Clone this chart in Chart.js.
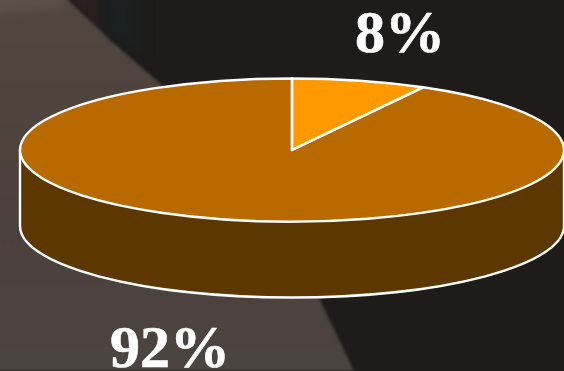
<!DOCTYPE html>
<html>
<head>
<meta charset="utf-8">
<style>
    html, body { margin: 0; padding: 0; background: #1e1b19; overflow: hidden; }
    #stage { position: relative; width: 564px; height: 371px; overflow: hidden; }
    .soft { position: absolute; left: -10px; top: -10px; width: 584px; height: 391px; }
    .soft div { width: 100%; height: 100%; }
    #maroon { background: #2b2021; clip-path: path('M70 0 L112 0 L112 48 Z'); }
    #shade { background: #1b2021; clip-path: path('M112 0 L150 0 L150 70 L112 40 Z'); }
    #wedge {
        background: linear-gradient(180deg, #51473f 0%, #4b403b 55%, #4c4440 100%);
        clip-path: path('M0 0 L70 0 C80 14 100 30 120 50 C145 72 165 88 180 103 C240 165 295 235 329 308 L364 381 L0 381 Z');
    }
    #band { background: #5c5047; clip-path: path('M0 0 L74 0 L76 16 C50 20 25 22 0 24 Z'); }
    canvas { position: absolute; left: 0; top: 0; }
</style>
</head>
<body>
<div id="stage">
    <div class="soft" style="filter: blur(6px)"><div id="maroon"></div></div>
    <div class="soft" style="filter: blur(7px)"><div id="shade"></div></div>
    <div class="soft" style="filter: blur(1.5px)"><div id="wedge"></div></div>
    <div class="soft" style="filter: blur(4px)"><div id="band"></div></div>
    <canvas id="pie" width="564" height="371"></canvas>
</div>
<script src="https://cdn.jsdelivr.net/npm/chart.js@4"></script>
<script>
const shares = [8, 92];
const sliceColors = ['#ff9900', '#b86a00'];
const wallColor = '#5c3700';
const labelSpots = [[400, 52], [170, 367]];

// Tilt of the pie and height of its side wall
const tilt = 0.263;
const wallDepth = 76;

// Runs fn with the context squashed around the pie centre
function tilted(ctx, arc, fn) {
    ctx.save();
    ctx.translate(arc.x, arc.y);
    ctx.scale(1, tilt);
    ctx.translate(-arc.x, -arc.y);
    fn();
    ctx.restore();
}

const tiltedPie = {
    id: 'tiltedPie',
    beforeDatasetsDraw(chart) {
        const ctx = chart.ctx;
        const arc = chart.getDatasetMeta(0).data[0];
        const r = arc.outerRadius;

        // side wall under the front half of the rim
        ctx.save();
        ctx.beginPath();
        ctx.moveTo(arc.x - r, arc.y);
        ctx.lineTo(arc.x - r, arc.y + wallDepth);
        ctx.ellipse(arc.x, arc.y + wallDepth, r, r * tilt, 0, Math.PI, 0, true);
        ctx.lineTo(arc.x + r, arc.y);
        ctx.fillStyle = wallColor;
        ctx.fill();
        ctx.strokeStyle = '#fff';
        ctx.lineWidth = 2.4;
        ctx.stroke();
        ctx.restore();

        ctx.save();
        ctx.translate(arc.x, arc.y);
        ctx.scale(1, tilt);
        ctx.translate(-arc.x, -arc.y);
    },
    afterDatasetsDraw(chart) {
        const ctx = chart.ctx;
        ctx.restore();

        // outlines go on unsquashed so the line keeps an even width
        chart.getDatasetMeta(0).data.forEach(arc => {
            tilted(ctx, arc, () => {
                ctx.beginPath();
                ctx.moveTo(arc.x, arc.y);
                ctx.arc(arc.x, arc.y, arc.outerRadius, arc.startAngle, arc.endAngle);
                ctx.closePath();
            });
            ctx.strokeStyle = '#fff';
            ctx.lineWidth = 2.4;
            ctx.lineJoin = 'round';
            ctx.stroke();
        });

        // percentage labels
        ctx.save();
        ctx.fillStyle = '#fff';
        ctx.strokeStyle = '#fff';
        ctx.lineWidth = 0.6;
        ctx.font = 'bold 60px "Liberation Serif"';
        ctx.textAlign = 'center';
        ctx.textBaseline = 'alphabetic';
        chart.data.labels.forEach((text, i) => {
            ctx.fillText(text, labelSpots[i][0], labelSpots[i][1]);
            ctx.strokeText(text, labelSpots[i][0], labelSpots[i][1]);
        });
        ctx.restore();
    }
};

new Chart(document.getElementById('pie'), {
    type: 'pie',
    data: {
        labels: shares.map(v => v + '%'),
        datasets: [{
            data: shares,
            backgroundColor: sliceColors,
            borderWidth: 0,
            radius: 272,
            clip: false
        }]
    },
    options: {
        responsive: false,
        animation: false,
        layout: { padding: { left: 20, right: 0, top: 0, bottom: 71 } },
        plugins: {
            legend: { display: false },
            tooltip: { enabled: false }
        }
    },
    plugins: [tiltedPie]
});
</script>
</body>
</html>
